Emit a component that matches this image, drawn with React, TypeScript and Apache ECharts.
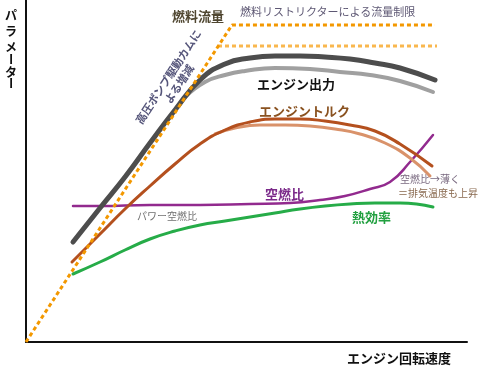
import React, { useEffect, useRef } from "react";
import * as echarts from "echarts";

// x: engine speed (arbitrary units), y: parameter (arbitrary units)
const fuelFlowX = [0, 206, 409];
const fuelFlowY = [0, 317, 317];
const restrictX = [192, 411];
const restrictY = [296, 296];

const powerAX = [47, 74, 99, 124, 149, 174, 199, 224, 249, 274, 299, 324, 349, 374, 409];
const powerAY = [100, 134, 165, 199, 232, 262, 278, 284, 286, 286, 285, 283, 279, 274, 262];
const powerBX = [159, 179, 199, 219, 249, 284, 314, 344, 374, 407];
const powerBY = [245, 260, 267, 271, 274, 273, 270, 267, 261, 250];

const torqueAX = [46, 74, 99, 124, 149, 174, 199, 224, 249, 274, 299, 324, 349, 374, 406];
const torqueAY = [80, 108, 133, 156, 178, 198, 212, 220, 223, 223, 221, 217, 211, 198, 176];
const torqueBX = [189, 209, 234, 259, 284, 309, 334, 359, 384, 404];
const torqueBY = [208, 214, 217, 217, 216, 213, 208, 199, 184, 166];

const afrX = [47, 74, 124, 174, 224, 264, 294, 319, 344, 364, 384, 407];
const afrY = [136, 136, 137, 137, 138, 139, 142, 146, 153, 160, 180, 207];

const effX = [47, 74, 99, 124, 149, 174, 199, 224, 249, 274, 299, 324, 349, 374, 407];
const effY = [68, 80, 92, 103, 111, 117, 121, 125, 129, 133, 136, 138, 139, 139, 135];

const yTitleChars = ["パ", "ラ", "メ", "ー", "タ", "ー"];

const zip = (xs: number[], ys: number[]) => xs.map((x, i) => [x, ys[i]]);

const FONT = '"Noto Sans CJK JP", "Noto Sans", sans-serif';

export default function App() {
  const ref = useRef<HTMLDivElement>(null);
  useEffect(() => {
    if (!ref.current) return;
    const chart = echarts.init(ref.current, undefined, { renderer: "svg" });

    const line = (
      name: string,
      xs: number[],
      ys: number[],
      color: string,
      width: number,
      smooth: number | boolean,
      z: number,
      dashed = false
    ) => ({
      name,
      type: "line",
      data: zip(xs, ys),
      smooth,
      symbol: "none",
      clip: false,
      z,
      lineStyle: {
        color,
        width,
        cap: dashed ? "butt" : "round",
        type: dashed ? [4, 3] : "solid",
      },
    });

    const yTitle = yTitleChars.map((ch, i) => {
      const ys = [14, 30, 46, 59, 71, 83];
      return {
        type: "text",
        x: 11,
        y: ys[i],
        rotation: ch === "ー" ? -Math.PI / 2 : 0,
        style: {
          text: ch,
          font: `bold 12px ${FONT}`,
          fill: "#111",
          textAlign: "center",
          textVerticalAlign: "middle",
          lineHeight: 12,
        },
      };
    });

    const txt = (
      text: string,
      x: number,
      y: number,
      size: number,
      color: string,
      bold = true,
      align = "left"
    ) => ({
      type: "text",
      x,
      y,
      style: {
        text,
        font: `${bold ? "bold " : ""}${size}px ${FONT}`,
        fill: color,
        textAlign: align,
        textVerticalAlign: "middle",
        lineHeight: size + 1,
      },
    });

    chart.setOption({
      animation: false,
      grid: { left: 26, right: 13, top: 0, bottom: 25 },
      xAxis: {
        type: "value",
        min: 0,
        max: 441,
        axisLine: { show: true, lineStyle: { color: "#111", width: 2 } },
        axisTick: { show: false },
        axisLabel: { show: false },
        splitLine: { show: false },
      },
      yAxis: {
        type: "value",
        min: 0,
        max: 342,
        axisLine: { show: true, lineStyle: { color: "#111", width: 2 } },
        axisTick: { show: false },
        axisLabel: { show: false },
        splitLine: { show: false },
      },
      series: [
        line("空燃比", afrX, afrY, "#922a8e", 2.5, 0.5, 2),
        line("熱効率", effX, effY, "#26ac48", 3, 0.5, 2),
        line("エンジントルク2", torqueBX, torqueBY, "#d9926a", 3, 0.5, 3),
        line("エンジントルク", torqueAX, torqueAY, "#b4501e", 3, 0.5, 4),
        line("エンジン出力2", powerBX, powerBY, "#a0a0a0", 4, 0.5, 5),
        line("エンジン出力", powerAX, powerAY, "#4d4d4d", 5, 0.5, 6),
        line("燃料リストリクター", restrictX, restrictY, "#f9b74e", 3, false, 7, true),
        line("燃料流量", fuelFlowX, fuelFlowY, "#f39800", 3, false, 8, true),
      ],
      graphic: [
        ...yTitle,
        txt("燃料流量", 172, 15, 13, "#4f4630"),
        txt("燃料リストリクターによる流量制限", 240, 11, 11, "#5e5874", false),
        txt("エンジン出力", 257, 83, 13, "#111"),
        txt("エンジントルク", 259, 110, 13, "#8a5220"),
        txt("空燃比", 265, 193, 13, "#7b2a8a"),
        txt("パワー空燃比", 137, 215, 10, "#707070", false),
        txt("熱効率", 352, 216, 13, "#22a040"),
        txt("空燃比→薄く", 400, 178, 10, "#7a6a80", false),
        txt("＝排気温度も上昇", 398, 192, 10, "#8a6a50", false),
        txt("エンジン回転速度", 347, 357, 13, "#111"),
        {
          type: "text",
          x: 173,
          y: 80,
          rotation: (56.6 * Math.PI) / 180,
          style: {
            text: "高圧ポンプ駆動カムに\nよる増減",
            font: `bold 11px ${FONT}`,
            fill: "#55557a",
            textAlign: "center",
            textVerticalAlign: "middle",
            lineHeight: 13,
          },
        },
      ],
    });
    return () => chart.dispose();
  }, []);
  return <div ref={ref} style={{ width: 480, height: 367, position: "fixed", left: 0, top: 0 }} />;
}
